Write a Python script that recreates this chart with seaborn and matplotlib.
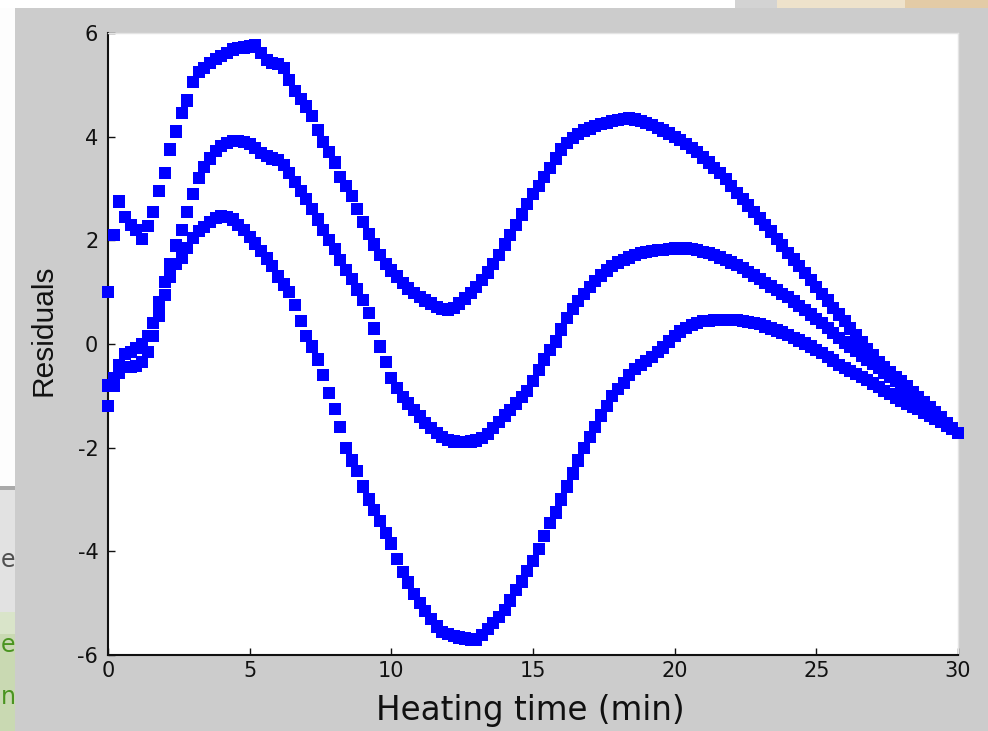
import numpy as np
import pandas as pd
import matplotlib
matplotlib.use("Agg")
import matplotlib.pyplot as plt
import seaborn as sns
from matplotlib.patches import Rectangle

# ---------------- data ----------------
time_min = np.round(np.arange(151) * 0.2, 1)   # 0, 0.2, ..., 30 min

upper = [1.0, 2.1, 2.75, 2.45, 2.3, 2.2, 2.02, 2.28, 2.55, 2.95, 3.3,
         3.75, 4.1, 4.45, 4.7, 5.05, 5.25, 5.33, 5.42, 5.5, 5.55,
         5.62, 5.68, 5.71, 5.72, 5.74, 5.76, 5.62, 5.48, 5.42, 5.4,
         5.33, 5.1, 4.88, 4.72, 4.58, 4.4, 4.13, 3.9, 3.7, 3.5,
         3.22, 3.05, 2.85, 2.6, 2.35, 2.12, 1.92, 1.72, 1.55, 1.42,
         1.3, 1.17, 1.07, 0.98, 0.9, 0.84, 0.78, 0.72, 0.67, 0.65,
         0.7, 0.78, 0.88, 0.98, 1.1, 1.23, 1.38, 1.54, 1.72, 1.92,
         2.1, 2.3, 2.5, 2.7, 2.9, 3.05, 3.22, 3.4, 3.58, 3.75,
         3.88, 3.98, 4.05, 4.12, 4.16, 4.2, 4.24, 4.27, 4.3, 4.32,
         4.34, 4.35, 4.33, 4.3, 4.26, 4.22, 4.17, 4.12, 4.06, 4.0,
         3.93, 3.86, 3.78, 3.7, 3.6, 3.5, 3.4, 3.3, 3.18, 3.05,
         2.92, 2.8, 2.67, 2.54, 2.42, 2.3, 2.17, 2.03, 1.9, 1.76,
         1.63, 1.5, 1.37, 1.23, 1.1, 0.97, 0.84, 0.7, 0.57, 0.44,
         0.3, 0.17, 0.04, -0.1, -0.22, -0.35, -0.45, -0.54, -0.63, -0.72,
         -0.82, -0.92, -1.02, -1.12, -1.22, -1.32, -1.42, -1.52, -1.62, -1.72]

middle = [-0.8, -0.65, -0.4, -0.2, -0.15, -0.08, 0.0, 0.15, 0.4, 0.8, 1.2,
          1.55, 1.9, 2.2, 2.55, 2.9, 3.2, 3.42, 3.58, 3.72, 3.82,
          3.88, 3.92, 3.92, 3.9, 3.86, 3.78, 3.68, 3.62, 3.58, 3.55,
          3.45, 3.3, 3.12, 2.95, 2.8, 2.6, 2.4, 2.2, 2.0, 1.83,
          1.62, 1.43, 1.25, 1.05, 0.85, 0.6, 0.3, -0.05, -0.35, -0.65,
          -0.85, -1.02, -1.15, -1.28, -1.4, -1.52, -1.62, -1.72, -1.8, -1.85,
          -1.88, -1.89, -1.89, -1.88, -1.86, -1.82, -1.74, -1.62, -1.5, -1.38,
          -1.27, -1.15, -1.02, -0.9, -0.72, -0.5, -0.3, -0.12, 0.05, 0.28,
          0.5, 0.68, 0.83, 0.97, 1.1, 1.22, 1.32, 1.42, 1.5, 1.57,
          1.62, 1.67, 1.71, 1.75, 1.78, 1.8, 1.81, 1.82, 1.83, 1.84,
          1.84, 1.84, 1.83, 1.81, 1.78, 1.75, 1.71, 1.67, 1.62, 1.57,
          1.52, 1.46, 1.39, 1.32, 1.25, 1.18, 1.11, 1.04, 0.97, 0.9,
          0.82, 0.74, 0.66, 0.57, 0.48, 0.4, 0.31, 0.21, 0.12, 0.03,
          -0.06, -0.14, -0.22, -0.3, -0.39, -0.47, -0.55, -0.64, -0.72, -0.81,
          -0.9, -0.99, -1.08, -1.17, -1.25, -1.34, -1.44, -1.53, -1.62, -1.72]

lower = [-1.2, -0.8, -0.55, -0.45, -0.45, -0.42, -0.35, -0.15, 0.15, 0.55, 0.95,
         1.3, 1.55, 1.66, 1.85, 2.05, 2.18, 2.26, 2.35, 2.43, 2.46,
         2.45, 2.4, 2.3, 2.2, 2.07, 1.94, 1.8, 1.65, 1.5, 1.3,
         1.15, 1.0, 0.75, 0.45, 0.15, -0.05, -0.3, -0.6, -0.95, -1.25,
         -1.6, -2.0, -2.25, -2.45, -2.75, -3.0, -3.2, -3.42, -3.65, -3.85,
         -4.15, -4.4, -4.6, -4.82, -5.0, -5.15, -5.3, -5.45, -5.55, -5.6,
         -5.63, -5.66, -5.68, -5.7, -5.71, -5.62, -5.5, -5.38, -5.26, -5.13,
         -4.95, -4.75, -4.58, -4.38, -4.18, -3.95, -3.7, -3.45, -3.25, -3.0,
         -2.75, -2.5, -2.25, -2.0, -1.8, -1.6, -1.38, -1.2, -1.0, -0.87,
         -0.75, -0.6, -0.48, -0.4, -0.33, -0.25, -0.16, -0.07, 0.05, 0.16,
         0.24, 0.31, 0.37, 0.41, 0.44, 0.45, 0.46, 0.47, 0.47, 0.47,
         0.46, 0.45, 0.43, 0.41, 0.38, 0.34, 0.3, 0.26, 0.22, 0.17,
         0.12, 0.07, 0.01, -0.05, -0.12, -0.18, -0.25, -0.32, -0.4, -0.47,
         -0.52, -0.58, -0.64, -0.7, -0.76, -0.83, -0.9, -0.97, -1.03, -1.09,
         -1.15, -1.21, -1.26, -1.32, -1.38, -1.44, -1.5, -1.57, -1.64, -1.72]

x_ticks = [0, 5, 10, 15, 20, 25, 30]
y_ticks = [-6, -4, -2, 0, 2, 4, 6]
x_label = "Heating time (min)"
y_label = "Residuals"

df = pd.concat([
    pd.DataFrame({"time": time_min, "residual": upper, "series": "upper"}),
    pd.DataFrame({"time": time_min, "residual": middle, "series": "middle"}),
    pd.DataFrame({"time": time_min, "residual": lower, "series": "lower"}),
], ignore_index=True)

# ---------------- figure ----------------
plt.rcParams["axes.unicode_minus"] = False
W, H = 988, 731
fig = plt.figure(figsize=(W / 100, H / 100), dpi=100, facecolor="#cccccc")


def px_rect(x0, y0, w, h, color, z=-10):
    fig.patches.append(Rectangle((x0 / W, 1 - (y0 + h) / H), w / W, h / H,
                                 transform=fig.transFigure, facecolor=color,
                                 edgecolor="none", zorder=z))


# slide remnants around the screenshot
px_rect(0, 0, 735, 8, "#ffffff")
px_rect(735, 0, 42, 8, "#d3d3d3")
px_rect(777, 0, 128, 8, "#eee2cb")
px_rect(905, 0, 83, 8, "#e3cba6")
px_rect(0, 8, 15, 480, "#fdfdfd")
px_rect(0, 486, 15, 4, "#a9a9a9")
px_rect(0, 490, 15, 122, "#e2e2e2")
px_rect(0, 612, 15, 22, "#d9e4c9")
px_rect(0, 634, 15, 97, "#c9d9b2")

for txt, ypx, col in [("e", 560, "#505050"), ("e", 645, "#4a9420"), ("n", 697, "#4a9420")]:
    fig.text(0.5 / W, 1 - ypx / H, txt, fontsize=17, color=col,
             ha="left", va="center", family="DejaVu Sans", zorder=-5)

ax = fig.add_axes([108 / W, 76 / H, 850 / W, 622 / H])
ax.set_facecolor("white")

sns.scatterplot(data=df, x="time", y="residual", hue="series",
                palette=["#0000ff"] * 3, marker="s", s=78, linewidth=0,
                legend=False, ax=ax, clip_on=False, zorder=3)

ax.set_xlim(0, 30)
ax.set_ylim(-6, 6)
ax.set_xticks(x_ticks)
ax.set_yticks(y_ticks)
ax.set_xticklabels([str(v) for v in x_ticks])
ax.set_yticklabels([str(v) for v in y_ticks])
ax.tick_params(direction="in", length=5, width=1.0, color="#111111",
               labelsize=15, labelcolor="#111111")
ax.tick_params(axis="y", pad=7)
ax.tick_params(axis="x", pad=4)

for side in ["left", "bottom"]:
    ax.spines[side].set_color("#111111")
    ax.spines[side].set_linewidth(1.5)
for side in ["top", "right"]:
    ax.spines[side].set_color("#e4e4e4")
    ax.spines[side].set_linewidth(1.0)

ax.set_xlabel(x_label, fontsize=23.5, color="#111111", family="DejaVu Sans")
ax.xaxis.set_label_coords(0.497, -0.063)
ax.set_ylabel(y_label, fontsize=21.5, color="#111111",
              family=["Liberation Sans", "DejaVu Sans"])
ax.yaxis.set_label_coords(-0.06, 0.522)

fig.savefig("out.png", dpi=100, facecolor=fig.get_facecolor())
